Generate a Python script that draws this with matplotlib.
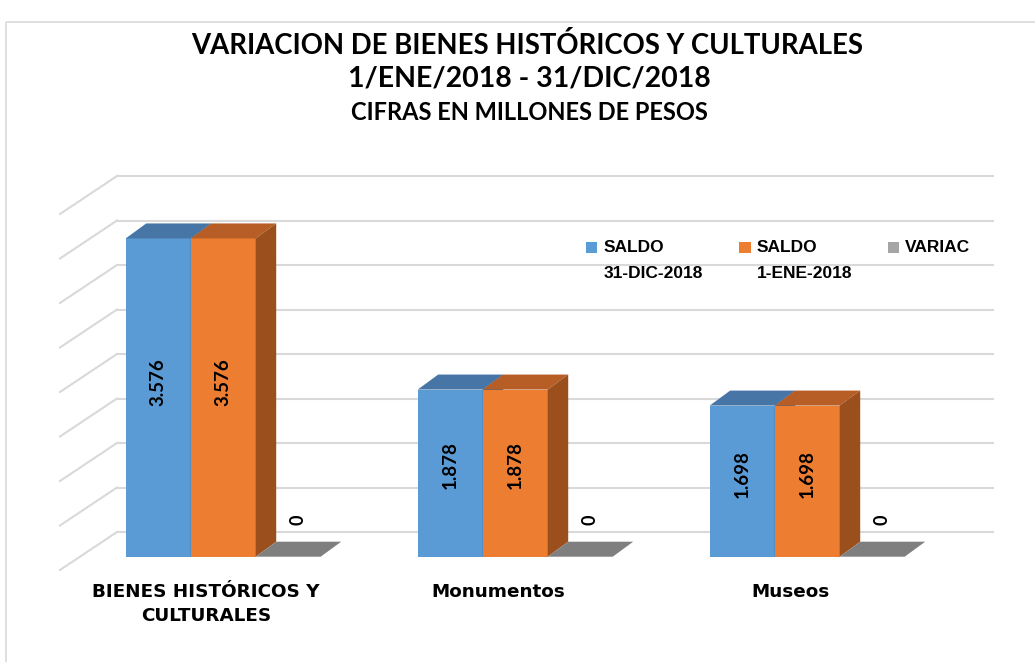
import matplotlib.pyplot as plt
from matplotlib.patches import Polygon, Rectangle

# datos (millones de pesos)
categorias = ["BIENES HISTÓRICOS Y\nCULTURALES", "Monumentos", "Museos"]
saldo_31dic = [3576, 1878, 1698]
saldo_1ene = [3576, 1878, 1698]
variacion = [0, 0, 0]
series = [("SALDO", "31-DIC-2018"), ("SALDO", "1-ENE-2018"), ("VARIAC", "")]
rejilla = list(range(0, 4001, 500))

# colores: frente, arriba, lado
colores = [
    ("#5B9BD5", "#4775A6", "#3F6A96"),
    ("#ED7D31", "#B65E25", "#9A4F1D"),
    ("#A5A5A5", "#7F7F7F", "#6E6E6E"),
]

# geometria en pixeles
W, H = 1035, 662
x0, paso, ancho = 125.7, 292, 65
dx, dy = 20.5, 15
base, k = 556.7, 0.089


def vy(p):
    return (base - p) / k


fig = plt.figure(figsize=(W / 100, H / 100), dpi=100)
ax = fig.add_axes([0, 0, 1, 1])
ax.set_xlim(0, W)
ax.set_ylim(vy(H), vy(0))
ax.axis("off")
lay = fig.add_axes([0, 0, 1, 1])
lay.set_xlim(0, W)
lay.set_ylim(H, 0)
lay.axis("off")
lay.patch.set_alpha(0)

# borde
lay.add_patch(Rectangle((6, 22), 1040, 700, fill=False, ec="#D9D9D9", lw=1.2))

# rejilla (pared trasera y lateral)
atras = vy(532)
frente = vy(570)
for g in rejilla:
    ax.plot([117, 993], [g + atras, g + atras], color="#D9D9D9", lw=1.5, zorder=0)
    ax.plot([60, 117], [g + frente, g + atras], color="#D9D9D9", lw=1.5, zorder=0)

dyv = dy / k


def caja(x, v, c, z):
    cf, ct, cs = c
    ax.add_patch(Polygon([(x, 0), (x + ancho, 0), (x + ancho, v), (x, v)],
                         fc=cf, ec="none", zorder=z))
    ax.add_patch(Polygon([(x, v), (x + ancho, v), (x + ancho + dx, v + dyv), (x + dx, v + dyv)],
                         fc=ct, ec="none", zorder=z))
    ax.add_patch(Polygon([(x + ancho, 0), (x + ancho + dx, dyv), (x + ancho + dx, v + dyv), (x + ancho, v)],
                         fc=cs, ec="none", zorder=z))


def fmt(v):
    return f"{v:,}".replace(",", ".")


valores = [saldo_31dic, saldo_1ene, variacion]
for i, cat in enumerate(categorias):
    xg = x0 + i * paso
    for s in [2, 0, 1]:
        x = xg + s * ancho
        v = valores[s][i]
        caja(x, v, colores[s], 2 + s)
        if v > 0:
            ax.text(x + ancho / 2, v * 0.55, fmt(v), rotation=90, ha="center", va="center",
                    fontsize=13.5, fontweight="bold", family="Lato", zorder=10)
        else:
            ax.text(x + ancho / 2 + dx / 2, v + vy(520), fmt(v), rotation=90, ha="center",
                    va="center", fontsize=13, fontweight="bold", family="Lato", zorder=10)
    ax.text(xg + 1.5 * ancho - 17, vy(583), cat, ha="center", va="top", fontsize=13.2,
            fontweight="bold", linespacing=1.45)

# leyenda
ley_x = [585.7, 739.3, 887.7]
for (l1, l2), c, lx in zip(series, colores, ley_x):
    lay.add_patch(Rectangle((lx, 241.7), 11.6, 11.6, fc=c[0], ec="none"))
    lay.text(lx + 17.6, 247.5, l1, ha="left", va="center", fontsize=12.5, fontweight="bold",
             family="Liberation Sans")
    if l2:
        lay.text(lx + 17.6, 273.3, l2, ha="left", va="center", fontsize=12.5, fontweight="bold",
                 family="Liberation Sans")

# titulos
lay.text(527, 45, "VARIACION DE BIENES HISTÓRICOS Y CULTURALES", ha="center", va="center",
         fontsize=19.8, fontweight="bold", family="Lato")
lay.text(529, 78, "1/ENE/2018 - 31/DIC/2018", ha="center", va="center",
         fontsize=20.5, fontweight="bold", family="Lato")
lay.text(529, 112, "CIFRAS EN MILLONES DE PESOS", ha="center", va="center",
         fontsize=17, fontweight="bold", family="Lato")

fig.savefig("out.png", dpi=100)
